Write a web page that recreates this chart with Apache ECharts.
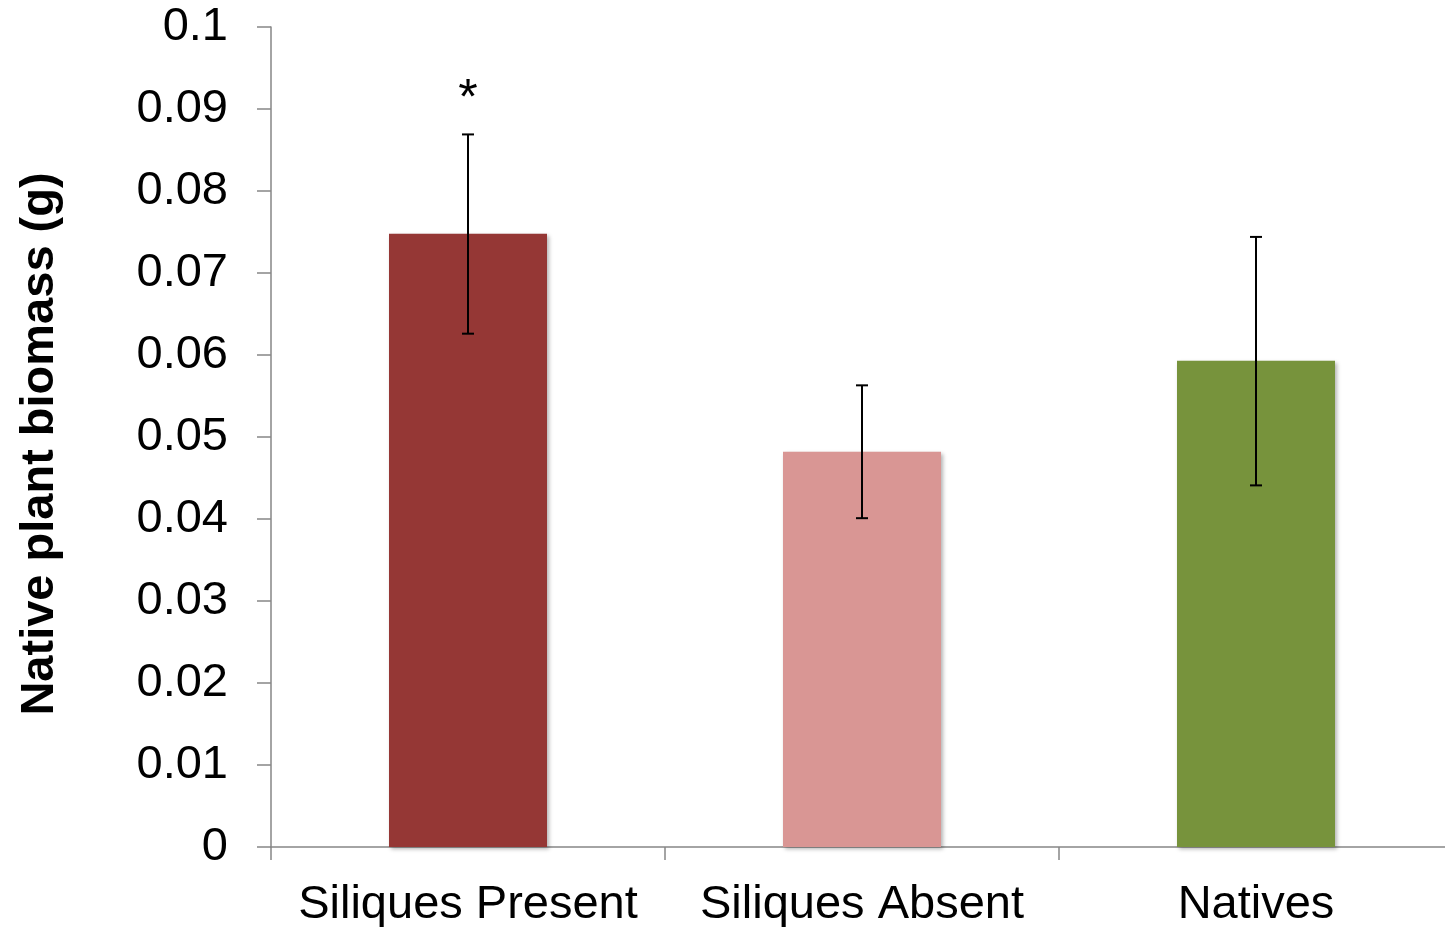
<!DOCTYPE html>
<html>
<head>
<meta charset="utf-8">
<script src="https://cdn.jsdelivr.net/npm/echarts@6/dist/echarts.min.js"></script>
<style>
html,body{margin:0;padding:0;background:#fff;}
#chart{width:1445px;height:927px;}
</style>
</head>
<body>
<div id="chart"></div>
<script>
var categories = ['Siliques Present', 'Siliques Absent', 'Natives'];
var biomass = [0.0748, 0.0482, 0.0593];
var errLow = [0.0626, 0.0401, 0.0441];
var errHigh = [0.0869, 0.0563, 0.0744];
var barColors = ['#953735', '#D99694', '#77933C'];
var annotations = ['*', '', ''];
var yTicks = { min: 0, max: 0.1, interval: 0.01 };

var FONT = '"Liberation Sans", Arial, sans-serif';

var chart = echarts.init(document.getElementById('chart'));
chart.setOption({
  animation: false,
  backgroundColor: '#ffffff',
  grid: { left: 271, top: 27, bottom: 80, width: 1182, containLabel: false, outerBoundsMode: 'none' },
  xAxis: {
    type: 'category',
    data: categories,
    axisLine: { lineStyle: { color: '#868686', width: 1.5 } },
    axisTick: { show: true, length: 13, lineStyle: { color: '#868686', width: 1.5 } },
    axisLabel: { color: '#000', fontSize: 47, fontFamily: FONT, margin: 35, interval: 0 },
    splitLine: { show: false }
  },
  yAxis: {
    type: 'value',
    min: yTicks.min, max: yTicks.max, interval: yTicks.interval,
    name: 'Native plant biomass (g)',
    nameLocation: 'middle',
    nameGap: 207,
    nameRotate: 90,
    nameTextStyle: { color: '#000', fontSize: 47, fontWeight: 'bold', fontFamily: FONT, padding: [0, 14, 0, 0] },
    axisLine: { show: true, lineStyle: { color: '#868686', width: 1.5 } },
    axisTick: { show: true, length: 14, lineStyle: { color: '#868686', width: 1.5 } },
    axisLabel: { color: '#000', fontSize: 47, fontFamily: FONT, margin: 43,
      formatter: function (v) { return String(parseFloat(v.toFixed(2))); } },
    splitLine: { show: false }
  },
  series: [
    {
      type: 'bar',
      barWidth: 158,
      data: biomass.map(function (v, i) {
        return { value: v, itemStyle: { color: barColors[i] } };
      }),
      itemStyle: { shadowBlur: 4, shadowOffsetX: 2, shadowOffsetY: 2, shadowColor: 'rgba(0,0,0,0.3)' },
      z: 2
    },
    {
      type: 'custom',
      data: categories.map(function (c, i) { return [i, errLow[i], errHigh[i]]; }),
      renderItem: function (params, api) {
        var i = api.value(0);
        var lo = api.coord([i, api.value(1)]);
        var hi = api.coord([i, api.value(2)]);
        var cap = 6;
        var style = { stroke: '#000', lineWidth: 2 };
        var children = [
          { type: 'line', shape: { x1: hi[0], y1: hi[1], x2: lo[0], y2: lo[1] }, style: style },
          { type: 'line', shape: { x1: hi[0] - cap, y1: hi[1], x2: hi[0] + cap, y2: hi[1] }, style: style },
          { type: 'line', shape: { x1: lo[0] - cap, y1: lo[1], x2: lo[0] + cap, y2: lo[1] }, style: style }
        ];
        if (annotations[i]) {
          children.push({
            type: 'text',
            style: { x: hi[0], y: hi[1] - 34, text: annotations[i], fill: '#000',
              font: '50px ' + FONT, align: 'center', verticalAlign: 'middle' }
          });
        }
        return { type: 'group', children: children };
      },
      z: 5
    }
  ]
});
</script>
</body>
</html>
